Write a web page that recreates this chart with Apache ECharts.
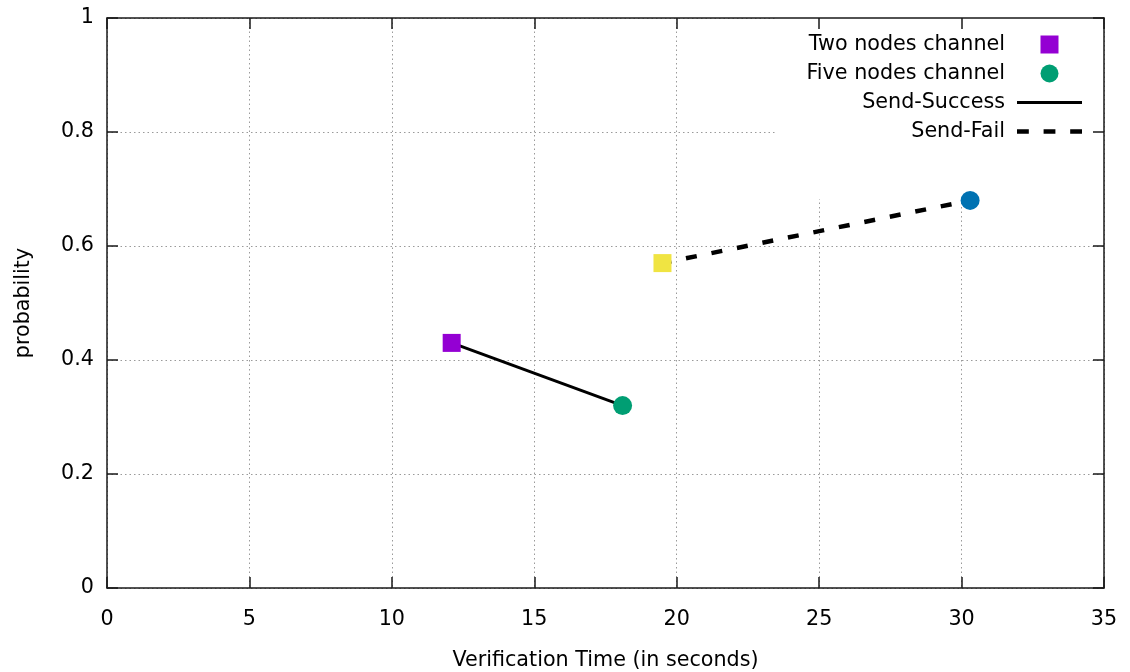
<!DOCTYPE html>
<html>
<head>
<meta charset="utf-8">
<script src="https://cdn.jsdelivr.net/npm/echarts@6/dist/echarts.min.js"></script>
<style>
  html, body { margin: 0; padding: 0; background: #fff; }
  #chart { width: 1130px; height: 672px; }
</style>
</head>
<body>
<div id="chart"></div>
<script>
// Verification time vs. probability for the two channel sizes
const twoNodesPoints = [[12.1, 0.43], [19.5, 0.57]];   // [seconds, probability]
const twoNodesColors = ['#9400d3', '#f0e442'];
const fiveNodesPoints = [[18.1, 0.32], [30.3, 0.68]];
const fiveNodesColors = ['#009e73', '#0072b2'];
const sendSuccess = [[12.1, 0.43], [18.1, 0.32]];
const sendFail = [[19.5, 0.57], [30.3, 0.68]];

const seriesNames = ['Two nodes channel', 'Five nodes channel', 'Send-Success', 'Send-Fail'];
const xTitle = 'Verification Time (in seconds)';
const yTitle = 'probability';

const FONT = 'DejaVu Sans';
const FONT_SIZE = 20.7;
const AXIS_COLOR = '#1a1a1a';
const GRID_COLOR = '#9a9a9a';

// legend glyphs: a square, a solid bar and a dashed bar
const ICON_SQUARE = 'path://M0,0h10v10h-10z';
const ICON_SOLID = 'path://M0,0h65v3h-65z';
const ICON_DASHED = 'path://M0,0h12v4.5h-12zM27,0h12v4.5h-12zM54,0h12v4.5h-12z';

function coloured(points, colors) {
  return points.map((p, i) => ({ value: p, itemStyle: { color: colors[i] } }));
}

const chart = echarts.init(document.getElementById('chart'), null, { renderer: 'canvas' });

const baseX = { type: 'value', min: 0, max: 35, interval: 5 };
const baseY = { type: 'value', min: 0, max: 1, interval: 0.2 };
const axisLineStyle = { show: true, onZero: false, lineStyle: { color: AXIS_COLOR, width: 1.5 } };
const tickStyle = { show: true, inside: true, length: 11, lineStyle: { color: AXIS_COLOR, width: 1.5 } };
const labelText = { fontFamily: FONT, fontSize: FONT_SIZE, color: '#000' };

chart.setOption({
  animation: false,
  backgroundColor: '#fff',
  textStyle: { fontFamily: FONT },
  grid: { left: 107, right: 26, top: 18, bottom: 84, containLabel: false, outerBoundsMode: 'none' },
  legend: {
    orient: 'vertical',
    align: 'right',
    right: 26,
    top: 18,
    padding: [16, 22, 57, 30],
    backgroundColor: '#ffffff',
    itemWidth: 65,
    itemHeight: 18,
    itemGap: 8,
    selectedMode: false,
    data: [
      { name: seriesNames[0], icon: ICON_SQUARE },
      { name: seriesNames[1], icon: 'circle' },
      { name: seriesNames[2], icon: ICON_SOLID },
      { name: seriesNames[3], icon: ICON_DASHED }
    ],
    textStyle: { fontFamily: FONT, fontSize: FONT_SIZE, color: '#000', padding: [0, 7, 0, 0] }
  },
  xAxis: [
    Object.assign({}, baseX, {
      position: 'bottom',
      name: xTitle,
      nameLocation: 'middle',
      nameGap: 62,
      nameTextStyle: labelText,
      axisLine: axisLineStyle,
      axisTick: tickStyle,
      axisLabel: Object.assign({ margin: 21 }, labelText),
      splitLine: { show: true, lineStyle: { color: GRID_COLOR, width: 1, type: [1.5, 3] } }
    }),
    Object.assign({}, baseX, {
      position: 'top',
      z: 10,
      axisLine: axisLineStyle,
      axisTick: tickStyle,
      axisLabel: { show: false },
      splitLine: { show: false }
    })
  ],
  yAxis: [
    Object.assign({}, baseY, {
      position: 'left',
      name: yTitle,
      nameLocation: 'middle',
      nameGap: 73,
      nameRotate: 90,
      nameTextStyle: labelText,
      axisLine: axisLineStyle,
      axisTick: tickStyle,
      axisLabel: Object.assign({ margin: 13 }, labelText),
      splitLine: { show: true, lineStyle: { color: GRID_COLOR, width: 1, type: [1.5, 3] } }
    }),
    Object.assign({}, baseY, {
      position: 'right',
      z: 10,
      axisLine: axisLineStyle,
      axisTick: tickStyle,
      axisLabel: { show: false },
      splitLine: { show: false }
    })
  ],
  series: [
    {
      name: seriesNames[2],
      type: 'line',
      z: 6,
      symbol: 'none',
      data: sendSuccess,
      itemStyle: { color: '#000' },
      lineStyle: { color: '#000', width: 3 }
    },
    {
      name: seriesNames[3],
      type: 'line',
      z: 6,
      symbol: 'none',
      data: sendFail,
      itemStyle: { color: '#000' },
      lineStyle: { color: '#000', width: 4.5, type: [11, 15], dashOffset: 2 }
    },
    {
      name: seriesNames[0],
      type: 'scatter',
      z: 7,
      symbol: 'rect',
      symbolSize: 18,
      itemStyle: { color: twoNodesColors[0], opacity: 1 },
      data: coloured(twoNodesPoints, twoNodesColors)
    },
    {
      name: seriesNames[1],
      type: 'scatter',
      z: 7,
      symbol: 'circle',
      symbolSize: 19,
      itemStyle: { color: fiveNodesColors[0], opacity: 1 },
      data: coloured(fiveNodesPoints, fiveNodesColors)
    }
  ]
});
</script>
</body>
</html>
